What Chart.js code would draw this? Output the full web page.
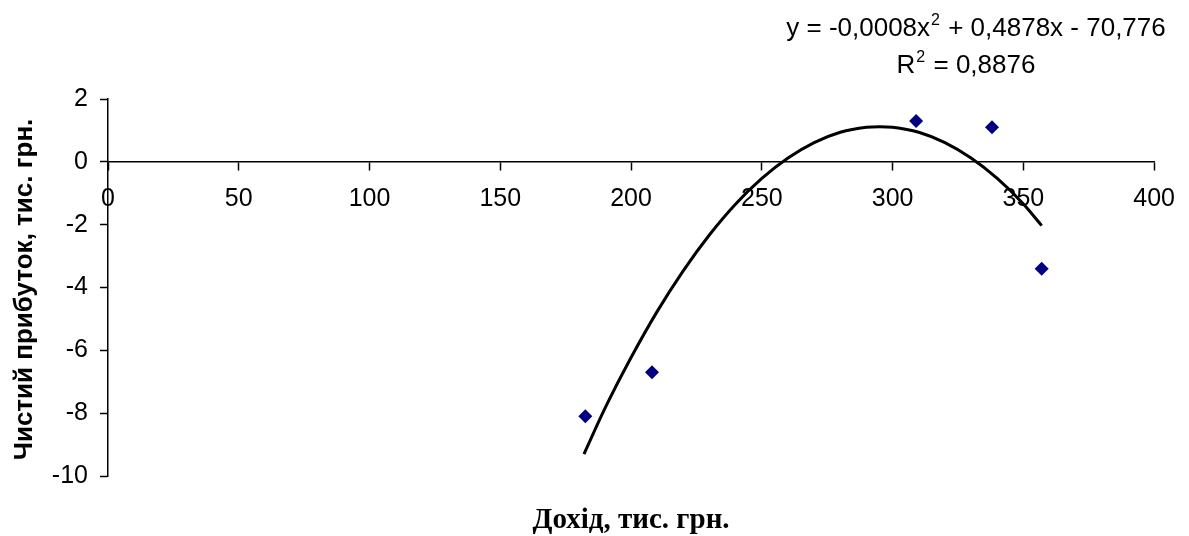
<!DOCTYPE html>
<html>
<head>
<meta charset="utf-8">
<script src="https://cdn.jsdelivr.net/npm/chart.js@4/dist/chart.umd.min.js"></script>
<style>
  html, body { margin: 0; padding: 0; background: #fff; }
  #wrap { width: 1189px; height: 536px; }
</style>
</head>
<body>
<div id="wrap"><canvas id="profitChart" width="1189" height="536"></canvas></div>
<script>
// observed points: income vs net profit (thousand UAH)
const incomeX = [182.5, 208, 309, 338, 357];
const profitY = [-8.1, -6.7, 1.3, 1.1, -3.4];

// polynomial trend line
const trendX = [182, 190, 200, 210, 220, 230, 240, 250, 260, 270, 280, 290, 295, 300, 310, 320, 330, 340, 350, 357];
const trendY = [-9.3, -7.85, -6.23, -4.76, -3.46, -2.32, -1.34, -0.53, 0.12, 0.61, 0.94, 1.1, 1.12, 1.1, 0.94, 0.61, 0.12, -0.53, -1.34, -2.03];

const xTicks = [0, 50, 100, 150, 200, 250, 300, 350, 400];
const yTicks = [2, 0, -2, -4, -6, -8, -10];

const eqLine1 = "y = -0,0008x";
const eqLine1b = " + 0,4878x - 70,776";
const eqLine2 = "R";
const eqLine2b = " = 0,8876";

const xTitle = "Дохід, тис. грн.";
const yTitle = "Чистий прибуток, тис. грн.";

document.addEventListener("DOMContentLoaded", () => {
  const sans = "'Liberation Sans', Arial, sans-serif";

  // draws axis titles and the trendline equation
  const labelsPlugin = {
    id: "labels",
    afterDraw(chart) {
      const ctx = chart.ctx;
      const area = chart.chartArea;
      ctx.save();
      ctx.fillStyle = "#000";

      // x axis title
      ctx.font = "bold 29px 'Liberation Serif', 'Times New Roman', serif";
      ctx.textAlign = "center";
      ctx.textBaseline = "alphabetic";
      ctx.fillText(xTitle, (area.left + area.right) / 2, 528);

      // y axis title
      ctx.save();
      ctx.translate(32, (area.top + area.bottom) / 2 + 2);
      ctx.rotate(-Math.PI / 2);
      ctx.font = "bold 26px " + sans;
      ctx.fillText(yTitle, 0, 0);
      ctx.restore();

      // equation with superscripts
      const writeLine = (a, b, cx, y) => {
        ctx.font = "26px " + sans;
        const wa = ctx.measureText(a).width;
        const wb = ctx.measureText(b).width;
        ctx.font = "16px " + sans;
        const ws = ctx.measureText("2").width + 2;
        let x = cx - (wa + ws + wb) / 2;
        ctx.textAlign = "left";
        ctx.font = "26px " + sans;
        ctx.fillText(a, x, y);
        x += wa;
        ctx.font = "16px " + sans;
        ctx.fillText("2", x + 1, y - 11);
        x += ws;
        ctx.font = "26px " + sans;
        ctx.fillText(b, x, y);
      };
      writeLine(eqLine1, eqLine1b, 976, 36);
      writeLine(eqLine2, eqLine2b, 966, 73);
      ctx.restore();
    }
  };

  new Chart(document.getElementById("profitChart"), {
    type: "scatter",
    data: {
      datasets: [
        {
          label: "Чистий прибуток",
          data: incomeX.map((x, i) => ({ x: x, y: profitY[i] })),
          pointStyle: "rectRot",
          pointRadius: 7,
          pointBackgroundColor: "#000080",
          pointBorderColor: "#000080",
          pointBorderWidth: 0,
          showLine: false
        },
        {
          label: "Поліноміальна",
          type: "line",
          data: trendX.map((x, i) => ({ x: x, y: trendY[i] })),
          borderColor: "#000",
          borderWidth: 3,
          pointRadius: 0,
          cubicInterpolationMode: "monotone",
          fill: false
        }
      ]
    },
    options: {
      responsive: false,
      animation: false,
      layout: { padding: { left: 0, right: 32, top: 99, bottom: 60 } },
      plugins: {
        legend: { display: false },
        tooltip: { enabled: false }
      },
      scales: {
        x: {
          type: "linear",
          position: { y: 0 },
          min: 0,
          max: 400,
          afterBuildTicks: scale => { scale.ticks = xTicks.map(v => ({ value: v })); },
          grid: {
            drawOnChartArea: false,
            drawTicks: true,
            tickLength: 8,
            tickColor: "#000",
            tickWidth: 1.5
          },
          border: { color: "#000", width: 1.5 },
          ticks: {
            color: "#000",
            font: { family: sans, size: 25 },
            padding: 14,
            maxRotation: 0
          }
        },
        y: {
          type: "linear",
          min: -10,
          max: 2,
          afterBuildTicks: scale => { scale.ticks = yTicks.map(v => ({ value: v })); },
          afterFit: scale => { scale.width = 108; },
          grid: {
            drawOnChartArea: false,
            drawTicks: true,
            tickLength: 8,
            tickColor: "#000",
            tickWidth: 1.5
          },
          border: { color: "#000", width: 1.5 },
          ticks: {
            color: "#000",
            font: { family: sans, size: 25 },
            padding: 12
          }
        }
      }
    },
    plugins: [labelsPlugin]
  });
});
</script>
</body>
</html>
